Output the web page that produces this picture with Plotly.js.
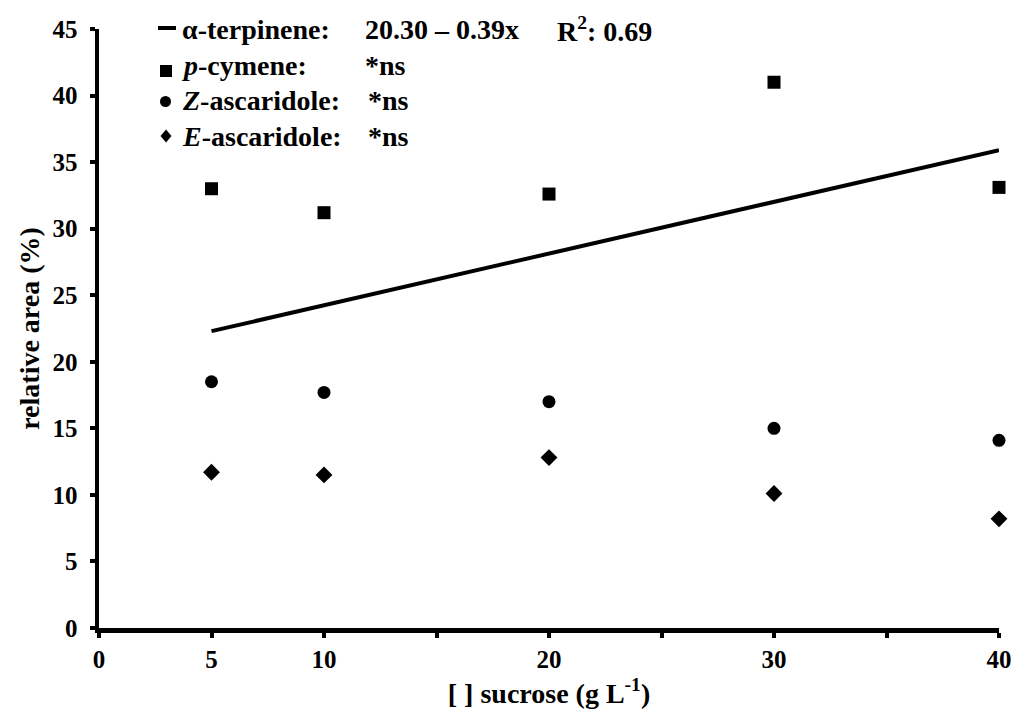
<!DOCTYPE html>
<html>
<head>
<meta charset="utf-8">
<script src="https://cdn.plot.ly/plotly-3.0.1.min.js"></script>
<style>html,body{margin:0;padding:0;background:#fff;}#chart{width:1015px;height:709px;}</style>
</head>
<body>
<div id="chart"></div>
<script>
// sucrose concentration (g/L)
const sucrose = [5, 10, 20, 30, 40];
// relative area (%)
const pCymene = [33.0, 31.2, 32.6, 41.0, 33.1];
const zAscaridole = [18.5, 17.7, 17.0, 15.0, 14.1];
const eAscaridole = [11.7, 11.5, 12.8, 10.1, 8.2];
// alpha-terpinene fitted line end points
const terpFitX = [5, 40];
const terpFitY = [22.3, 35.9];

const xTickVals = [0, 5, 10, 15, 20, 25, 30, 35, 40];
const xTickText = ['0', '5', '10', '', '20', '', '30', '', '40'];
const yTickVals = [0, 5, 10, 15, 20, 25, 30, 35, 40, 45];

// legend texts: [label, statistic, R²]
const legendLabels = ['\u03B1-terpinene:', '<i>p</i>-cymene:', '<i>Z</i>-ascaridole:', '<i>E</i>-ascaridole:'];
const legendStats = ['20.30 \u2013 0.39x', '*ns', '*ns', '*ns'];
const legendR2 = ['R<sup>2</sup>: 0.69', '', '', ''];

const FONT = 'Liberation Serif';
const black = '#000000';

function draw() {
  const traces = [
    {x: terpFitX, y: terpFitY, mode: 'lines', line: {color: black, width: 4}, name: 'α-terpinene', cliponaxis: false},
    {x: sucrose, y: pCymene, mode: 'markers', marker: {symbol: 'square', size: 13, color: black}, name: 'p-cymene', cliponaxis: false},
    {x: sucrose, y: zAscaridole, mode: 'markers', marker: {symbol: 'circle', size: 13, color: black}, name: 'Z-ascaridole', cliponaxis: false},
    {x: sucrose, y: eAscaridole, mode: 'markers', marker: {symbol: 'diamond', size: 13, color: black}, name: 'E-ascaridole', cliponaxis: false}
  ];

  // plot area pixel geometry
  const L = 99, R = 16, T = 29, B = 81;
  const W = 1015 - L - R, H = 709 - T - B;
  const px = v => (v - L) / W;
  const py = v => (709 - B - v) / H;

  const rowY = [30, 66, 101, 137];
  const statX = [363, 363, 366, 366];
  const lf = {family: FONT, size: 28, color: black};
  const annotations = [];
  legendLabels.forEach((t, i) => {
    annotations.push({xref: 'paper', yref: 'paper', x: px(180), y: py(rowY[i]), xanchor: 'left', yanchor: 'middle',
      text: '<b>' + t + '</b>', showarrow: false, font: lf});
    annotations.push({xref: 'paper', yref: 'paper', x: px(statX[i]), y: py(rowY[i]), xanchor: 'left', yanchor: 'middle',
      text: '<b>' + legendStats[i] + '</b>', showarrow: false, font: lf});
    if (legendR2[i]) {
      annotations.push({xref: 'paper', yref: 'paper', x: px(555), y: py(rowY[i]), xanchor: 'left', yanchor: 'middle',
        text: '<b>' + legendR2[i] + '</b>', showarrow: false, font: lf});
    }
  });

  // legend symbols (pixel geometry converted to paper units)
  const shapes = [
    {type: 'line', xref: 'paper', yref: 'paper', x0: px(158), x1: px(176), y0: py(28), y1: py(28), line: {color: black, width: 4}},
    {type: 'rect', xref: 'paper', yref: 'paper', x0: px(160), x1: px(172), y0: py(65), y1: py(77), fillcolor: black, line: {width: 0}},
    {type: 'circle', xref: 'paper', yref: 'paper', x0: px(160), x1: px(171), y0: py(96), y1: py(107), fillcolor: black, line: {width: 0}},
    {type: 'path', xref: 'paper', yref: 'paper',
      path: 'M ' + px(166) + ',' + py(129.5) + ' L ' + px(171.5) + ',' + py(136) + ' L ' + px(166) + ',' + py(142.5) + ' L ' + px(160.5) + ',' + py(136) + ' Z',
      fillcolor: black, line: {width: 0}}
  ];

  const tf = {family: FONT, size: 25, color: black};
  const titleFont = {family: FONT, size: 28, color: black};

  const layout = {
    width: 1015, height: 709,
    margin: {l: L, r: R, t: T, b: B, pad: 0},
    paper_bgcolor: '#fff', plot_bgcolor: '#fff',
    showlegend: false,
    font: {family: FONT, size: 25, color: black},
    xaxis: {
      range: [0, 40], tickvals: xTickVals, ticktext: xTickText.map(t => t ? '<b>' + t + '</b>' : ''),
      ticks: 'outside', ticklen: 5, tickwidth: 4, tickcolor: black,
      showline: true, linewidth: 4.5, linecolor: black, showgrid: false, zeroline: false,
      ticklabelstandoff: 0,
      tickfont: tf,
      title: {text: '<b>[ ] sucrose (g L<sup>-1</sup>)</b>', standoff: 16, font: titleFont}
    },
    yaxis: {
      range: [0, 45], tickvals: yTickVals, ticktext: yTickVals.map(v => '<b>' + v + '</b>'),
      ticks: 'outside', ticklen: 5, tickwidth: 4, tickcolor: black,
      showline: true, linewidth: 4.5, linecolor: black, showgrid: false, zeroline: false,
      ticklabelstandoff: 7,
      tickfont: tf,
      title: {text: '<b>relative area (%)</b>', standoff: 6, font: titleFont}
    },
    annotations: annotations,
    shapes: shapes
  };

  Plotly.newPlot('chart', traces, layout, {staticPlot: true, displayModeBar: false});
}

if (document.fonts && document.fonts.load) {
  Promise.all([
    document.fonts.load('bold 25px "Liberation Serif"'),
    document.fonts.load('italic bold 25px "Liberation Serif"')
  ]).then(draw, draw);
} else {
  draw();
}
</script>
</body>
</html>
